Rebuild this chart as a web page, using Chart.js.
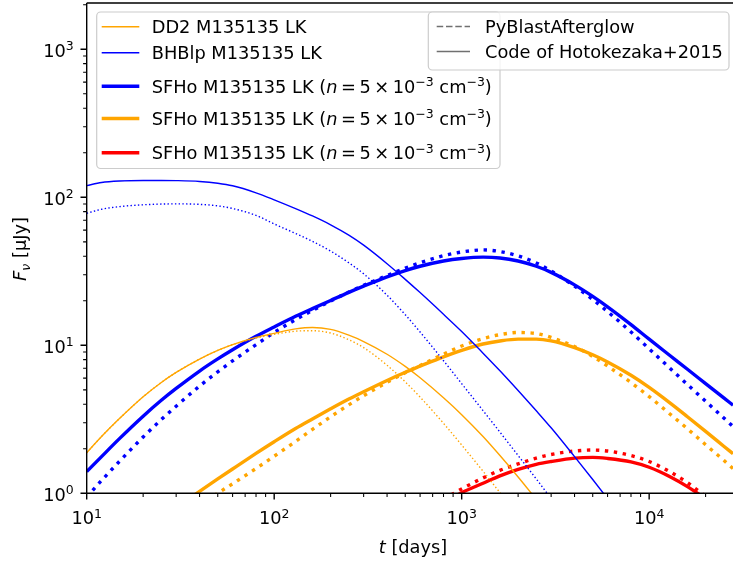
<!DOCTYPE html>
<html>
<head>
<meta charset="utf-8">
<script src="https://cdn.jsdelivr.net/npm/chart.js@4.4.1/dist/chart.umd.min.js"></script>
<style>
  html, body { margin: 0; padding: 0; background: #fff; overflow: hidden; }
  canvas { display: block; }
</style>
</head>
<body>
<canvas id="lc" width="733" height="561"></canvas>
<script>
// Afterglow light curves: time since merger [days] vs flux density [μJy]
const times = [10, 12, 15, 20, 25, 30, 40, 50, 60, 80, 100, 130, 160, 200, 250, 300, 400, 500, 600, 800,
               1000, 1300, 1600, 2000, 2500, 3000, 4000, 5000, 6000, 8000, 10000, 13000, 16000, 20000, 25000, 28000];

// DD2 M135135 LK
const dd2Hotokezaka = [1.88, 2.42, 3.21, 4.49, 5.61, 6.56, 8.07, 9.23, 10.1, 11.3, 12.05, 12.9, 13.2, 12.8, 11.7, 10.6, 8.7, 7.2, 6.03, 4.42,
                       3.40, 2.42, 1.80, 1.29, 0.91, null, null, null, null, null, null, null, null, null, null, null];
const dd2PyBlast    = [1.88, 2.42, 3.21, 4.49, 5.61, 6.56, 8.07, 9.23, 10.1, 11.2, 11.85, 12.45, 12.55, 12.1, 10.9, 9.64, 7.33, 5.66, 4.47, 2.97,
                       2.12, 1.41, 1.01, 0.70, null, null, null, null, null, null, null, null, null, null, null, null];

// BHBlp M135135 LK
const bhblpHotokezaka = [120, 126, 129, 130, 130, 129.7, 128.0, 124.5, 119.6, 107.2, 96.2, 83.9, 74.8, 65.2, 55.5, 47.5, 35.6, 27.9, 22.7, 16.2,
                         12.4, 8.85, 6.73, 4.95, 3.61, 2.77, 1.77, 1.24, 0.92, 0.57, null, null, null, null, null, null];
const bhblpPyBlast    = [78, 83, 86.5, 89, 90, 90.3, 89.6, 87.5, 84.0, 75.5, 66.1, 57.0, 50.4, 43.3, 36.1, 30.4, 21.8, 16.1, 12.3, 7.87,
                         5.51, 3.62, 2.59, 1.80, 1.25, 0.92, null, null, null, null, null, null, null, null, null, null];

// SFHo M135135 LK, blue
const sfhoBlueHotokezaka = [1.40, 1.77, 2.35, 3.32, 4.25, 5.11, 6.70, 8.09, 9.33, 11.5, 13.3, 15.7, 17.7, 20.1, 22.8, 25.1, 29.0, 32.0, 34.2, 37.1,
                            38.6, 39.4, 38.9, 37.1, 34.2, 31.1, 25.6, 21.4, 18.2, 13.8, 11.0, 8.47, 6.89, 5.51, 4.41, 3.94];
const sfhoBluePyBlast    = [0.94, 1.22, 1.65, 2.40, 3.15, 3.88, 5.30, 6.62, 7.85, 10.1, 12.2, 14.9, 17.2, 19.9, 22.9, 25.4, 29.6, 33.2, 36.1, 40.3,
                            42.7, 44.1, 43.0, 40.2, 36.0, 31.8, 25.1, 20.4, 16.9, 12.3, 9.46, 6.94, 5.43, 4.19, 3.23, 2.83];

// SFHo M135135 LK, orange
const sfhoOrangeHotokezaka = [null, null, null, null, null, 0.80, 1.03, 1.25, 1.46, 1.86, 2.23, 2.74, 3.18, 3.72, 4.33, 4.86, 5.79, 6.58, 7.23, 8.36,
                              9.25, 10.2, 10.7, 11.0, 11.0, 10.7, 9.64, 8.63, 7.71, 6.27, 5.19, 4.05, 3.29, 2.62, 2.08, 1.85];
const sfhoOrangePyBlast    = [null, null, null, null, null, null, 0.82, 1.0, 1.16, 1.47, 1.78, 2.24, 2.70, 3.29, 3.96, 4.57, 5.62, 6.53, 7.31, 8.71,
                              9.89, 11.1, 11.8, 12.2, 12.0, 11.3, 9.8, 8.41, 7.24, 5.6, 4.50, 3.41, 2.73, 2.13, 1.67, 1.47];

// SFHo M135135 LK, red
const sfhoRedHotokezaka = [null, null, null, null, null, null, null, null, null, null, null, null, null, null, null, null, null, null, null, 0.87,
                           1.01, 1.17, 1.31, 1.45, 1.57, 1.64, 1.73, 1.75, 1.72, 1.63, 1.50, 1.29, 1.11, 0.92, null, null];
const sfhoRedPyBlast    = [null, null, null, null, null, null, null, null, null, null, null, null, null, null, null, null, null, null, null, 0.91,
                           1.07, 1.27, 1.43, 1.58, 1.73, 1.83, 1.93, 1.96, 1.93, 1.80, 1.64, 1.39, 1.18, 0.95, null, null];

const modelLabels = [
  'DD2 M135135 LK',
  'BHBlp M135135 LK',
  'SFHo M135135 LK (*n*\u2009=\u20095\u2009×\u200910^{−3} cm^{−3})',
  'SFHo M135135 LK (*n*\u2009=\u20095\u2009×\u200910^{−3} cm^{−3})',
  'SFHo M135135 LK (*n*\u2009=\u20095\u2009×\u200910^{−3} cm^{−3})'
];
const codeLabels = ['PyBlastAfterglow', 'Code of Hotokezaka+2015'];

const xMajorTicks = [10, 100, 1000, 10000];
const xTickLabels = ['10^{1}', '10^{2}', '10^{3}', '10^{4}'];
const yMajorTicks = [1, 10, 100, 1000];
const yTickLabels = ['10^{0}', '10^{1}', '10^{2}', '10^{3}'];
const xTitle = '*t* [days]';
const yTitle = '*F*_{ν} [μJy]';

const hotokezakaSeries = [dd2Hotokezaka, bhblpHotokezaka, sfhoBlueHotokezaka, sfhoOrangeHotokezaka, sfhoRedHotokezaka];
const pyBlastSeries    = [dd2PyBlast, bhblpPyBlast, sfhoBluePyBlast, sfhoOrangePyBlast, sfhoRedPyBlast];

// ---- styling ----
const modelColors = ['#ffa500', '#0000ff', '#0000ff', '#ffa500', '#ff0000'];
const modelWidths = [1.4, 1.4, 3.4, 3.4, 3.4];
const FAMILY = '"DejaVu Sans", sans-serif';
const FS = 17.8;
const TEXT = '#000';

function toPoints(vals) {
  return times.map((t, i) => ({ x: t, y: vals[i] })).filter(p => p.y !== null);
}

const datasets = [];
modelLabels.forEach((lab, m) => {
  datasets.push({
    label: lab + ' (Hotokezaka+2015)',
    data: toPoints(hotokezakaSeries[m]),
    borderColor: modelColors[m],
    borderWidth: modelWidths[m],
    pointRadius: 0,
    fill: false,
    clip: 0,
    cubicInterpolationMode: 'monotone'
  });
  datasets.push({
    label: lab + ' (PyBlastAfterglow)',
    data: toPoints(pyBlastSeries[m]),
    borderColor: modelColors[m],
    borderWidth: modelWidths[m],
    borderDash: [modelWidths[m], modelWidths[m] * 1.65],
    pointRadius: 0,
    fill: false,
    clip: 0,
    cubicInterpolationMode: 'monotone'
  });
});

// ---- rich text: *italic*, ^{superscript}, _{subscript} ----
function parseRich(s) {
  const parts = [];
  const re = /\^\{([^}]*)\}|_\{([^}]*)\}|\*([^*]+)\*/g;
  let last = 0, m;
  while ((m = re.exec(s))) {
    if (m.index > last) parts.push({ t: s.slice(last, m.index), k: 'n' });
    if (m[1] !== undefined) parts.push({ t: m[1], k: 'sup' });
    else if (m[2] !== undefined) parts.push({ t: m[2], k: 'sub' });
    else parts.push({ t: m[3], k: 'it' });
    last = re.lastIndex;
  }
  if (last < s.length) parts.push({ t: s.slice(last), k: 'n' });
  return parts;
}
function partFont(k) {
  const size = (k === 'sup' || k === 'sub') ? FS * 0.7 : FS;
  const it = (k === 'it' || k === 'sub');
  return (it ? 'italic ' : '') + size.toFixed(2) + 'px ' + FAMILY;
}
function drawRich(ctx, s, x, y, align) {
  const parts = parseRich(s);
  let w = 0;
  parts.forEach(p => { ctx.font = partFont(p.k); w += ctx.measureText(p.t).width; });
  let cx = align === 'center' ? x - w / 2 : align === 'right' ? x - w : x;
  ctx.textAlign = 'left';
  ctx.textBaseline = 'alphabetic';
  ctx.fillStyle = TEXT;
  parts.forEach(p => {
    ctx.font = partFont(p.k);
    const dy = p.k === 'sup' ? -FS * 0.37 : p.k === 'sub' ? FS * 0.2 : 0;
    ctx.fillText(p.t, cx, y + dy);
    cx += ctx.measureText(p.t).width;
  });
}

// ---- axes frame, ticks, tick labels and titles ----
const axesPlugin = {
  id: 'axesFrame',
  afterDatasetsDraw(chart) {
    const ctx = chart.ctx;
    const a = chart.chartArea;
    const xs = chart.scales.x, ys = chart.scales.y;
    ctx.save();
    ctx.strokeStyle = '#000';
    ctx.lineWidth = 1.4;
    ctx.beginPath();
    ctx.moveTo(a.left, a.top); ctx.lineTo(a.right + 2, a.top);
    ctx.moveTo(a.left, a.top); ctx.lineTo(a.left, a.bottom);
    ctx.moveTo(a.left, a.bottom); ctx.lineTo(a.right + 2, a.bottom);
    ctx.stroke();

    // minor ticks on decades
    ctx.lineWidth = 1.05;
    ctx.beginPath();
    for (let e = 1; e <= 4; e++) {
      for (let k = 2; k <= 9; k++) {
        const v = k * Math.pow(10, e);
        if (v < xs.min || v > xs.max) continue;
        const px = xs.getPixelForValue(v);
        ctx.moveTo(px, a.bottom); ctx.lineTo(px, a.bottom + 3.6);
      }
    }
    for (let e = 0; e <= 3; e++) {
      for (let k = 2; k <= 9; k++) {
        const v = k * Math.pow(10, e);
        if (v < ys.min || v > ys.max) continue;
        const py = ys.getPixelForValue(v);
        ctx.moveTo(a.left, py); ctx.lineTo(a.left - 3.6, py);
      }
    }
    ctx.stroke();

    // major ticks
    ctx.lineWidth = 1.4;
    ctx.beginPath();
    xMajorTicks.forEach(v => {
      const px = xs.getPixelForValue(v);
      ctx.moveTo(px, a.bottom); ctx.lineTo(px, a.bottom + 6.2);
    });
    yMajorTicks.forEach(v => {
      const py = ys.getPixelForValue(v);
      ctx.moveTo(a.left, py); ctx.lineTo(a.left - 6.2, py);
    });
    ctx.stroke();

    xMajorTicks.forEach((v, i) => drawRich(ctx, xTickLabels[i], xs.getPixelForValue(v), a.bottom + 31, 'center'));
    yMajorTicks.forEach((v, i) => drawRich(ctx, yTickLabels[i], a.left - 13, ys.getPixelForValue(v) + 7.5, 'right'));

    drawRich(ctx, xTitle, 413, 553, 'center');
    ctx.save();
    ctx.translate(26, 249);
    ctx.rotate(-Math.PI / 2);
    drawRich(ctx, yTitle, 0, 0, 'center');
    ctx.restore();
    ctx.restore();
  },
  afterDraw(chart) {
    const ctx = chart.ctx;
    ctx.save();
    function frame(x, y, w, h) {
      ctx.beginPath();
      ctx.roundRect(x, y, w, h, 4);
      ctx.fillStyle = 'rgba(255,255,255,0.8)';
      ctx.fill();
      ctx.strokeStyle = '#cccccc';
      ctx.lineWidth = 1.2;
      ctx.setLineDash([]);
      ctx.stroke();
    }
    // model legend
    frame(96.7, 12, 403.3, 156.5);
    const rows = [33.3, 59.3, 92.7, 125, 159.3];
    modelLabels.forEach((lab, m) => {
      const y = rows[m];
      ctx.strokeStyle = modelColors[m];
      ctx.lineWidth = modelWidths[m];
      ctx.setLineDash([]);
      ctx.beginPath();
      ctx.moveTo(101.7, y - 6.5); ctx.lineTo(139.3, y - 6.5);
      ctx.stroke();
      drawRich(ctx, lab, 151.7, y, 'left');
    });
    // code legend
    frame(428.3, 12, 300.7, 58);
    const rows2 = [33, 58];
    codeLabels.forEach((lab, i) => {
      const y = rows2[i];
      ctx.strokeStyle = '#707070';
      ctx.lineWidth = 1.4;
      ctx.setLineDash(i === 0 ? [6.5, 2.8] : []);
      ctx.beginPath();
      ctx.moveTo(436.7, y - 6.5); ctx.lineTo(470, y - 6.5);
      ctx.stroke();
      ctx.setLineDash([]);
      drawRich(ctx, lab, 485, y, 'left');
    });
    ctx.restore();
  }
};

new Chart(document.getElementById('lc'), {
  type: 'line',
  data: { datasets },
  options: {
    responsive: false,
    animation: false,
    events: [],
    layout: { padding: { left: 86.7, right: 0, top: 3, bottom: 67.7 } },
    plugins: { legend: { display: false }, tooltip: { enabled: false } },
    scales: {
      x: { type: 'logarithmic', min: 10, max: 28000, display: false },
      y: { type: 'logarithmic', min: 1, max: 2055, display: false }
    }
  },
  plugins: [axesPlugin]
});
</script>
</body>
</html>
